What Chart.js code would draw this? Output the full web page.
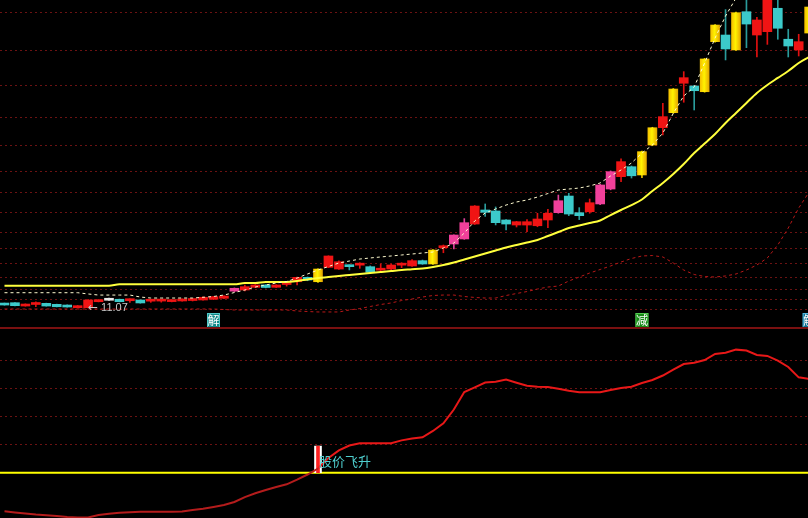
<!DOCTYPE html>
<html>
<head>
<meta charset="utf-8">
<script src="https://cdn.jsdelivr.net/npm/chart.js@4.4.1/dist/chart.umd.min.js"></script>
<style>
    html, body { margin: 0; padding: 0; background: #000; }
    #wrap { width: 808px; height: 518px; overflow: hidden; background: #000; }
    canvas { display: block; }
    .sep { height: 2px; background: #7a1010; }
</style>
</head>
<body>
<div id="wrap">
    <canvas id="priceChart" width="808" height="327"></canvas>
    <div class="sep"></div>
    <canvas id="signalChart" width="808" height="189"></canvas>
</div>
<script>
// Candles, one per trading day (r = red up, c = cyan down, y = yellow, p = pink, w = flat)
const candleKind = ['c','c','r','r','c','c','c','r','r','r',
    'w','c','r','c','r','r','r','r','r','r',
    'r','r','p','r','r','c','r','r','r','c',
    'y','r','r','c','r','c','r','r','r','r',
    'c','y','r','p','p','r','c','c','c','r',
    'r','r','r','p','c','c','r','p','p','r',
    'c','y','y','r','y','r','c','y','y','c',
    'y','c','r','r','c','c','r','y'];
const opens = [11.59,11.66,11.29,11.46,11.59,11.48,11.40,11.10,11.10,11.77,
    12.15,12.04,11.88,11.96,11.83,11.84,11.78,11.85,11.90,11.96,
    12.04,12.15,12.94,13.07,13.37,13.63,13.37,13.68,13.99,14.48,
    13.99,15.59,15.40,15.85,15.83,15.66,15.27,15.40,15.83,15.74,
    16.33,15.96,17.77,18.18,18.74,20.40,21.96,21.85,20.85,20.29,
    20.29,20.21,20.85,21.66,23.51,21.66,21.77,22.63,24.29,25.66,
    26.77,25.85,29.18,31.10,32.77,36.04,35.74,35.10,40.66,41.40,
    39.74,43.99,41.40,41.77,44.37,40.93,39.74,41.62];
const closes = [11.40,11.33,11.51,11.50,11.29,11.21,11.18,11.33,11.96,11.96,
    11.93,11.77,11.92,11.63,11.87,11.88,11.90,12.04,12.07,12.26,
    12.33,12.40,13.26,13.44,13.63,13.35,13.63,13.72,14.48,14.18,
    15.40,16.85,16.21,15.66,15.87,15.04,15.31,15.85,15.87,16.33,
    15.96,17.51,17.81,19.18,20.55,22.40,21.70,20.55,20.40,20.66,
    20.66,20.96,21.59,22.99,21.51,21.33,22.77,24.74,26.22,27.33,
    25.76,28.44,31.10,32.33,35.40,36.66,35.21,38.74,42.51,39.85,
    43.88,42.62,43.07,45.60,42.15,40.18,40.66,44.51];
const highs = [11.62,11.68,11.53,11.77,11.61,11.50,11.42,11.35,12.00,11.98,
    12.17,12.06,12.10,11.98,12.00,12.00,11.95,12.08,12.12,12.30,
    12.37,12.44,13.30,13.63,13.68,13.66,13.66,13.90,14.50,14.52,
    15.42,16.87,16.32,15.87,16.10,15.75,15.96,15.95,16.10,16.45,
    16.40,17.55,18.07,19.20,21.00,22.45,22.63,22.30,20.90,20.70,
    20.90,21.59,22.03,23.62,23.81,22.22,23.18,24.80,26.30,27.63,
    26.85,28.50,31.15,33.81,35.45,37.33,35.80,38.80,42.55,44.22,
    43.95,45.60,43.37,46.00,45.50,42.04,41.48,44.60];
const lows = [11.38,11.31,11.27,11.21,11.27,11.19,11.16,11.08,11.07,11.75,
    11.91,11.75,11.70,11.60,11.70,11.72,11.75,11.82,11.85,11.93,
    12.00,12.12,12.90,12.98,13.33,13.30,13.34,13.50,13.63,14.10,
    13.90,15.55,15.35,15.30,15.48,15.00,15.10,15.33,15.55,15.70,
    15.92,15.92,17.21,17.63,18.70,20.35,21.25,20.30,19.74,20.07,
    19.55,20.10,19.99,21.60,21.33,20.89,21.60,22.55,24.20,25.10,
    25.51,25.55,29.10,30.29,32.70,33.93,33.07,35.05,40.60,38.63,
    39.70,39.99,38.96,40.36,40.93,38.96,39.07,41.50];

// Overlay lines on the price panel
const maLine = [13.55,13.55,13.55,13.55,13.55,13.55,13.55,13.55,13.55,13.55,
    13.55,13.70,13.70,13.70,13.70,13.70,13.70,13.70,13.70,13.70,
    13.70,13.70,13.70,13.85,13.85,13.96,13.96,13.96,14.07,14.24,
    14.40,14.51,14.63,14.74,14.85,14.96,15.07,15.18,15.29,15.37,
    15.46,15.63,15.85,16.13,16.46,16.79,17.13,17.46,17.79,18.07,
    18.35,18.63,19.07,19.51,19.96,20.24,20.51,20.79,21.40,21.96,
    22.51,23.13,24.07,24.96,25.96,27.07,28.29,29.35,30.40,31.63,
    32.74,33.85,34.96,35.85,36.63,37.40,38.29,38.96];
const upperBand = [12.77,12.77,12.77,12.77,12.77,12.77,12.77,12.77,12.63,12.51,
    12.51,12.51,12.51,12.29,12.18,12.18,12.18,12.18,12.18,12.26,
    12.35,12.51,12.79,13.07,13.40,13.63,13.85,14.01,14.40,14.85,
    15.29,15.68,16.07,16.29,16.51,16.63,16.74,16.85,16.96,17.07,
    17.18,17.29,17.74,18.29,19.40,20.74,21.63,22.07,22.51,22.85,
    23.07,23.40,23.79,24.18,24.29,24.40,24.63,24.96,25.74,26.40,
    27.18,28.29,29.18,30.51,32.70,34.63,35.63,38.29,41.07,43.51,
    45.51,null,null,null,null,null,null,null];
const lowerBand = [10.96,10.96,10.96,10.96,10.96,10.96,10.96,10.96,10.96,10.96,
    10.96,10.96,10.96,10.96,10.96,10.96,10.96,10.96,10.96,10.96,
    10.96,10.90,10.85,10.85,10.85,10.85,10.85,10.85,10.74,10.68,
    10.63,10.63,10.63,10.85,11.01,11.24,11.46,11.63,11.90,12.07,
    12.29,12.46,12.51,12.51,12.35,12.24,12.18,12.18,12.46,12.68,
    12.90,13.18,13.40,13.51,14.07,14.51,14.96,15.35,15.74,16.18,
    16.57,16.85,16.90,16.74,16.07,15.29,14.79,14.57,14.51,14.63,
    14.85,15.29,15.85,16.63,18.07,19.96,22.18,23.96];
const priceGrid = [10.85, 11.96, 13.18, 14.51, 15.96, 17.63, 19.51, 21.63,
    23.85, 26.29, 29.18, 32.29, 35.74, 39.63, 43.85];
const lowLabelIndex = 8;
const markerIndex = [20, 61, 77];
const markerText = ['解', '减', '解'];

// Lower indicator panel
const strengthLine = [-27.6,-28.4,-29.1,-29.9,-30.4,-30.9,-31.6,-32.0,-32.0,-30.2,
    -29.3,-28.6,-28.2,-27.9,-27.9,-27.9,-27.9,-27.7,-26.6,-25.8,
    -24.5,-23.1,-20.9,-17.4,-14.7,-12.4,-10.2,-8.3,-5.0,-1.3,
    3.0,10.5,15.9,19.4,21.0,21.0,21.0,21.0,23.1,24.4,
    25.3,29.8,35.3,45.1,57.6,61.0,64.4,65.0,66.5,64.3,
    62.1,61.4,61.2,59.9,58.5,57.4,57.4,57.4,59.1,60.5,
    61.4,64.1,66.2,69.4,73.7,77.6,78.6,80.5,84.8,85.7,
    87.9,87.3,84.1,83.4,80.0,75.5,68.1,66.9];
const strengthGrid = [20, 40, 60, 80];
const baseLevel = 0;
const signalIndex = [30];
const signalTop = [19];
const signalText = '股价飞升';

const kindColor = { r: '#f01414', c: '#3ccaca', y: '#ffd400', p: '#f0409a', w: '#e8e8e8' };
const wickColor = { r: '#e01010', c: '#2a9c9c', y: '#e8c000', p: '#e0409a', w: '#d0d0d0' };
const gridColor = '#6b1212';

function bodyColor(ctx) {
    if (ctx.type !== 'data') return kindColor.r;
    const k = candleKind[ctx.dataIndex];
    if (k !== 'y') return kindColor[k];
    // yellow candles have a light band down the middle
    const x = ctx.chart.scales.x.getPixelForValue(ctx.dataIndex);
    const g = ctx.chart.ctx.createLinearGradient(x - 4.5, 0, x + 4.5, 0);
    g.addColorStop(0, '#f5c000');
    g.addColorStop(0.45, '#fff200');
    g.addColorStop(1, '#e6a800');
    return g;
}

function wickColorFor(ctx) {
    if (ctx.type !== 'data') return wickColor.r;
    return wickColor[candleKind[ctx.dataIndex]];
}

const xView = { type: 'linear', min: -0.43, max: 76.89, offset: false, display: false };

const priceOverlay = {
    id: 'priceOverlay',
    afterDatasetsDraw(chart) {
        const { ctx, chartArea, scales: { x, y } } = chart;
        ctx.save();
        // lowest price tag
        const lx = x.getPixelForValue(lowLabelIndex);
        const ly = y.getPixelForValue(lows[lowLabelIndex]);
        ctx.fillStyle = '#c8c8c8';
        ctx.textBaseline = 'middle';
        ctx.textAlign = 'left';
        ctx.font = '12px "DejaVu Sans"';
        ctx.fillText('←', lx, ly);
        ctx.font = '11px "Liberation Sans"';
        ctx.fillText(lows[lowLabelIndex].toFixed(2), lx + 13, ly);

        // signal tags along the bottom edge
        const fills = ['#138a8a', '#168a16', '#0f6f8f'];
        const edges = ['#50c8c8', '#50c850', '#50b8e0'];
        markerIndex.forEach((idx, k) => {
            const cx = x.getPixelForValue(idx);
            const top = chartArea.bottom - 14;
            ctx.fillStyle = fills[k];
            ctx.fillRect(cx - 6.5, top, 13, 15);
            ctx.strokeStyle = edges[k];
            ctx.lineWidth = 1;
            ctx.strokeRect(cx - 6, top + 0.5, 12, 14);
            ctx.fillStyle = '#ffffff';
            ctx.font = '12px "Noto Sans CJK SC"';
            ctx.textAlign = 'center';
            ctx.fillText(markerText[k], cx, top + 7.5);
        });
        ctx.restore();
    }
};

const signalOverlay = {
    id: 'signalOverlay',
    beforeDatasetsDraw(chart) {
        const { ctx, chartArea, scales: { y } } = chart;
        const yy = y.getPixelForValue(baseLevel);
        ctx.save();
        ctx.strokeStyle = '#ffff00';
        ctx.lineWidth = 2;
        ctx.beginPath();
        ctx.moveTo(chartArea.left, yy);
        ctx.lineTo(chartArea.right, yy);
        ctx.stroke();
        ctx.restore();
    },
    afterDatasetsDraw(chart) {
        const { ctx, scales: { x, y } } = chart;
        ctx.save();
        ctx.font = '13px "Noto Sans CJK SC"';
        ctx.fillStyle = '#4fcfcf';
        ctx.textBaseline = 'middle';
        ctx.textAlign = 'left';
        signalIndex.forEach(idx => {
            ctx.fillText(signalText, x.getPixelForValue(idx) + 1, y.getPixelForValue(baseLevel) - 12);
        });
        ctx.restore();
    }
};

function gridAxis(min, max, values) {
    return {
        type: 'linear',
        min: min,
        max: max,
        afterBuildTicks: scale => { scale.ticks = values.map(v => ({ value: v })); },
        ticks: { display: false },
        grid: { color: gridColor, drawTicks: false, lineWidth: 1 },
        border: { display: false, dash: [2, 3] }
    };
}

const commonOptions = {
    responsive: false,
    animation: false,
    devicePixelRatio: 1,
    layout: { padding: 0, autoPadding: false },
    plugins: { legend: { display: false }, tooltip: { enabled: false } },
    events: []
};

// Price panel
new Chart(document.getElementById('priceChart').getContext('2d'), {
    type: 'bar',
    data: {
        datasets: [
            {
                type: 'line',
                data: upperBand.map((v, i) => ({ x: i, y: v })),
                borderColor: '#fffbd0',
                borderWidth: 1,
                borderDash: [3, 3],
                pointRadius: 0,
                order: 0
            },
            {
                type: 'line',
                data: maLine.map((v, i) => ({ x: i, y: v })),
                borderColor: '#ffff3c',
                borderWidth: 2,
                pointRadius: 0,
                cubicInterpolationMode: 'monotone',
                order: 1
            },
            {
                type: 'line',
                data: lowerBand.map((v, i) => ({ x: i, y: v })),
                borderColor: '#b81818',
                borderWidth: 1,
                borderDash: [3, 3],
                pointRadius: 0,
                order: 2
            },
            {
                data: opens.map((o, i) => ({ x: i, y: [o, closes[i]] })),
                backgroundColor: bodyColor,
                borderWidth: 0,
                barThickness: 9,
                minBarLength: 2,
                grouped: false,
                order: 3
            },
            {
                data: lows.map((l, i) => ({ x: i, y: [l, highs[i]] })),
                backgroundColor: wickColorFor,
                borderWidth: 0,
                barThickness: 1,
                grouped: false,
                order: 4
            }
        ]
    },
    options: {
        ...commonOptions,
        scales: {
            x: xView,
            y: gridAxis(8.96, 45.29, priceGrid)
        }
    },
    plugins: [priceOverlay]
});

// Indicator panel
new Chart(document.getElementById('signalChart').getContext('2d'), {
    type: 'bar',
    data: {
        datasets: [
            {
                type: 'line',
                data: strengthLine.map((v, i) => ({ x: i, y: v })),
                borderColor: '#e81818',
                borderWidth: 2,
                pointRadius: 0,
                segment: {
                    borderColor: ctx => ctx.p0.parsed.y < baseLevel ? '#b41c1c' : '#e81818'
                },
                order: 0
            },
            {
                data: signalIndex.map((idx, k) => ({ x: idx, y: [baseLevel, signalTop[k]] })),
                backgroundColor: '#ff2020',
                borderWidth: 0,
                barThickness: 3,
                grouped: false,
                order: 1
            },
            {
                data: signalIndex.map((idx, k) => ({ x: idx, y: [baseLevel, signalTop[k]] })),
                backgroundColor: '#ffffff',
                borderWidth: 0,
                barThickness: 7,
                grouped: false,
                order: 2
            }
        ]
    },
    options: {
        ...commonOptions,
        scales: {
            x: xView,
            y: gridAxis(-32.36, 102.64, strengthGrid)
        }
    },
    plugins: [signalOverlay]
});
</script>
</body>
</html>
